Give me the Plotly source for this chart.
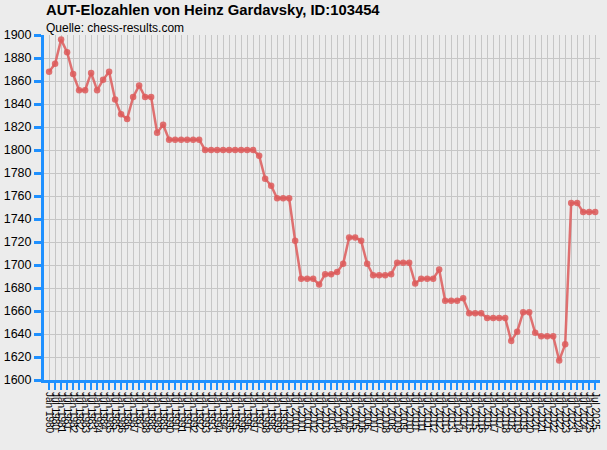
import plotly.graph_objects as go

# rating lists, twice a year (Jan / Jul)
years = list(range(1980, 2026))
months = ["Jan", "Jul"]
lists = [f"{m} {y}" for y in years for m in months]

elo = [1868, 1875, 1896, 1885, 1866, 1852, 1852, 1867, 1852, 1861,
       1868, 1844, 1831, 1827, 1846, 1856, 1846, 1846, 1815, 1822,
       1809, 1809, 1809, 1809, 1809, 1809, 1800, 1800, 1800, 1800,
       1800, 1800, 1800, 1800, 1800, 1795, 1775, 1769, 1758, 1758,
       1758, 1721, 1688, 1688, 1688, 1683, 1692, 1692, 1694, 1701,
       1724, 1724, 1721, 1701, 1691, 1691, 1691, 1692, 1702, 1702,
       1702, 1684, 1688, 1688, 1688, 1696, 1669, 1669, 1669, 1671,
       1658, 1658, 1658, 1654, 1654, 1654, 1654, 1634, 1642, 1659,
       1659, 1641, 1638, 1638, 1638, 1617, 1631, 1754, 1754, 1746,
       1746, 1746]

y_ticks = list(range(1600, 1901, 20))

title = "AUT-Elozahlen von Heinz Gardavsky, ID:103454"
source = "Quelle: chess-results.com"

blue = "#1e90ff"
red = "rgba(221,90,90,0.85)"

fig = go.Figure()
fig.add_trace(go.Scatter(
    x=lists, y=elo, mode="lines+markers",
    line=dict(color=red, width=2.5),
    marker=dict(color=red, size=6.5),
    hoverinfo="x+y"))

fig.update_layout(
    width=607, height=450,
    margin=dict(l=44, r=7, t=35, b=70),
    paper_bgcolor="#ececec", plot_bgcolor="#ececec",
    font=dict(family="Liberation Sans, Arial", color="black", size=12),
    showlegend=False,
    annotations=[
        dict(text=f"<b>{title}</b>", x=0, y=1, xref="paper", yref="paper",
             xanchor="left", yanchor="bottom", yshift=15, xshift=0,
             showarrow=False, font=dict(size=14.8)),
        dict(text=source, x=0, y=1, xref="paper", yref="paper",
             xanchor="left", yanchor="bottom", yshift=-2, xshift=0,
             showarrow=False, font=dict(size=12)),
    ])

fig.update_xaxes(
    type="category", range=[-0.85, len(lists) - 0.2], automargin=False,
    showgrid=True, gridcolor="#c6c6c6", gridwidth=1.2,
    showline=True, linecolor=blue, linewidth=3,
    ticks="outside", tickcolor=blue, ticklen=7, tickwidth=2,
    tickangle=90, tickfont=dict(size=10), dtick=1)

fig.update_yaxes(
    range=[1600, 1900], tickvals=y_ticks, automargin=False,
    showgrid=True, gridcolor="#c6c6c6", gridwidth=1.2, zeroline=False,
    showline=True, linecolor=blue, linewidth=3,
    ticks="outside", tickcolor=blue, ticklen=7, tickwidth=3,
    tickfont=dict(size=12.5))

# drop the page's default body margin so the figure sits in the corner
fig.write_html("out.html", config={"displayModeBar": False},
               post_script="document.body.style.margin = '0';")
